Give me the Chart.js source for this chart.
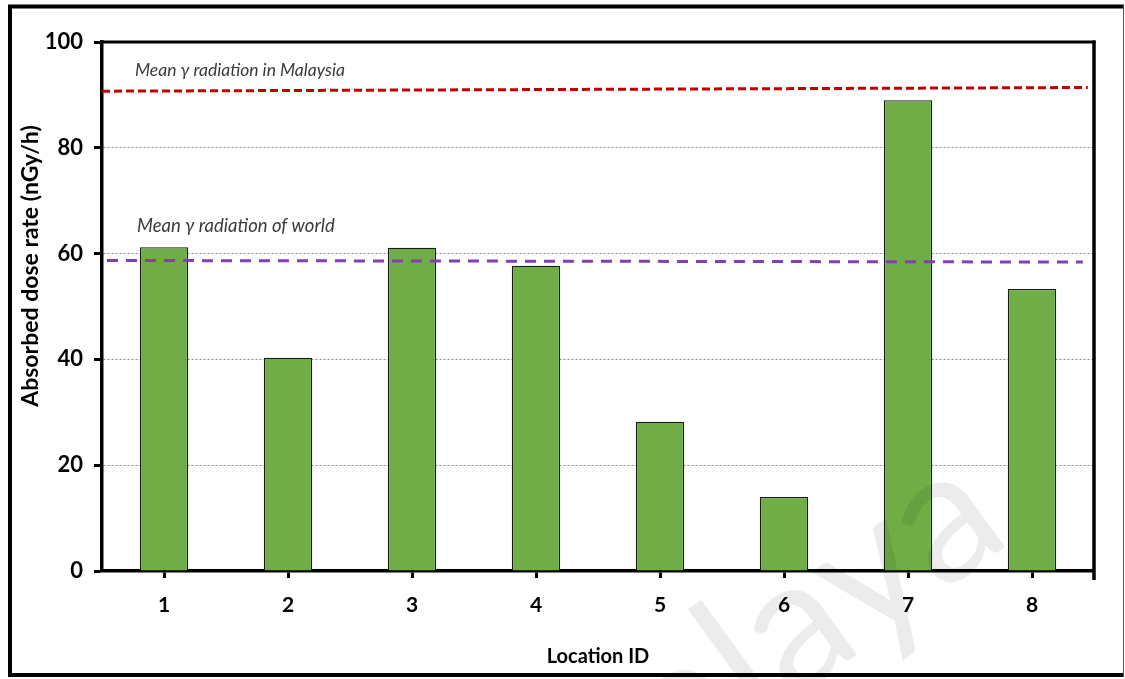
<!DOCTYPE html>
<html>
<head>
<meta charset="utf-8">
<script src="https://cdn.jsdelivr.net/npm/chart.js@4.4.1/dist/chart.umd.min.js"></script>
<style>
  html, body { margin: 0; padding: 0; background: #fff; }
  #wrap { position: relative; width: 1125px; height: 679px; }
  canvas { display: block; }
</style>
</head>
<body>
<div id="wrap"><canvas id="c" width="1125" height="679"></canvas></div>
<script>
// Location IDs and measured absorbed dose rates (nGy/h)
const locations = ['1', '2', '3', '4', '5', '6', '7', '8'];
const doseRates = [61.2, 40.3, 61.1, 57.7, 28.2, 14.0, 89.0, 53.3];

// Reference levels, given as [start, end] along the location axis
const malaysiaMeanX = [0.5, 8.45];
const malaysiaMeanY = [90.7, 91.4];
const worldMeanX = [0.54, 8.41];
const worldMeanY = [58.7, 58.4];

const yTicks = [0, 20, 40, 60, 80, 100];

const FONT = 'Lato, "Open Sans", sans-serif';

// Frame around the figure, the plot box, the axis title, captions and the watermark
const decorations = {
  id: 'decorations',
  afterDatasetsDraw(chart) {
    const { ctx, chartArea: a, scales } = chart;
    const y = scales.y;
    ctx.save();
    // captions for the reference lines
    ctx.fillStyle = '#3a3a3a';
    ctx.textAlign = 'left';
    ctx.textBaseline = 'middle';
    ctx.font = 'italic 17.5px ' + FONT;
    ctx.fillText('Mean \u03b3 radiation in Malaysia', a.left + 33, y.getPixelForValue(94.6));
    ctx.font = 'italic 18.5px ' + FONT;
    ctx.fillText('Mean \u03b3 radiation of world', a.left + 35, y.getPixelForValue(65.3));

    // vertical axis title
    ctx.save();
    ctx.translate(31, 266);
    ctx.rotate(-Math.PI / 2);
    ctx.textAlign = 'center';
    ctx.textBaseline = 'middle';
    ctx.fillStyle = '#000';
    ctx.font = 'bold 23px ' + FONT;
    ctx.fillText('Absorbed dose rate (nGy/h)', 0, 0);
    ctx.restore();

    // faint diagonal watermark
    ctx.save();
    ctx.translate(1015, 540);
    ctx.rotate(-36 * Math.PI / 180);
    ctx.font = '185px ' + FONT;
    ctx.fillStyle = 'rgba(0,0,0,0.075)';
    ctx.textAlign = 'right';
    ctx.textBaseline = 'alphabetic';
    ctx.fillText('Malaya', 0, 0);
    ctx.restore();

    // plot box: top and right edges
    ctx.strokeStyle = '#000';
    ctx.lineWidth = 3;
    ctx.beginPath();
    ctx.moveTo(a.left - 1, a.top);
    ctx.lineTo(a.right + 1.5, a.top);
    ctx.stroke();
    ctx.lineWidth = 3.5;
    ctx.beginPath();
    ctx.moveTo(a.right, a.top - 1.5);
    ctx.lineTo(a.right, a.bottom + 9);
    ctx.stroke();

    // outer frame
    ctx.lineWidth = 4;
    ctx.beginPath();
    ctx.moveTo(10, 675);
    ctx.lineTo(10, 6.5);
    ctx.lineTo(1124, 6.5);
    ctx.stroke();
    ctx.beginPath();
    ctx.moveTo(8, 675);
    ctx.lineTo(1124, 675);
    ctx.stroke();
    ctx.lineWidth = 1;
    ctx.strokeStyle = '#555';
    ctx.beginPath();
    ctx.moveTo(1123.5, 5);
    ctx.lineTo(1123.5, 677);
    ctx.stroke();
    ctx.restore();
  }
};

new Chart(document.getElementById('c'), {
  type: 'bar',
  data: {
    labels: locations,
    datasets: [
      {
        type: 'bar',
        data: doseRates,
        backgroundColor: '#70AD47',
        borderColor: '#1a1a1a',
        borderWidth: 1.3,
        barPercentage: 0.39,
        categoryPercentage: 1,
        grouped: false,
        xAxisID: 'x',
        order: 2
      },
      {
        type: 'line',
        data: malaysiaMeanX.map((x, i) => ({ x, y: malaysiaMeanY[i] })),
        borderColor: '#C00000',
        borderWidth: 3,
        borderDash: [8, 4],
        pointRadius: 0,
        fill: false,
        xAxisID: 'xr',
        order: 1
      },
      {
        type: 'line',
        data: worldMeanX.map((x, i) => ({ x, y: worldMeanY[i] })),
        borderColor: '#7F3FB5',
        borderWidth: 3,
        borderDash: [11, 8],
        pointRadius: 0,
        fill: false,
        xAxisID: 'xr',
        order: 1
      }
    ]
  },
  options: {
    responsive: false,
    animation: false,
    events: [],
    layout: { padding: { left: 0, top: 42, right: 31, bottom: 0 } },
    plugins: { legend: { display: false }, tooltip: { enabled: false } },
    scales: {
      x: {
        type: 'category',
        offset: true,
        afterFit(s) { s.height = 108; },
        grid: {
          offset: false,
          drawOnChartArea: false,
          tickLength: 7,
          tickColor: '#000',
          tickWidth: 3
        },
        border: { display: true, color: '#000', width: 3.5 },
        ticks: {
          color: '#000',
          font: { family: FONT, size: 21, weight: 'bold' },
          padding: 15
        },
        title: {
          display: true,
          text: 'Location ID',
          color: '#000',
          font: { family: FONT, size: 20, weight: 'bold' },
          padding: { top: 0, bottom: 10 }
        }
      },
      xr: {
        type: 'linear',
        display: false,
        offset: false,
        min: 0.5,
        max: 8.5
      },
      y: {
        type: 'linear',
        min: 0,
        max: 100,
        afterFit(s) { s.width = 102; },
        afterBuildTicks(s) { s.ticks = yTicks.map(v => ({ value: v })); },
        grid: {
          color: c => (c.tick && (c.tick.value === 0 || c.tick.value === 100)) ? 'rgba(0,0,0,0)' : '#8a8a8a',
          lineWidth: 1,
          tickColor: '#000',
          tickWidth: 3,
          tickLength: 8,
          tickBorderDash: []
        },
        border: { display: true, color: '#000', width: 3.5, dash: [2, 2] },
        ticks: {
          color: '#000',
          font: { family: FONT, size: 22, weight: 'bold' },
          padding: 11
        },
        title: { display: false }
      }
    }
  },
  plugins: [decorations]
});
</script>
</body>
</html>
